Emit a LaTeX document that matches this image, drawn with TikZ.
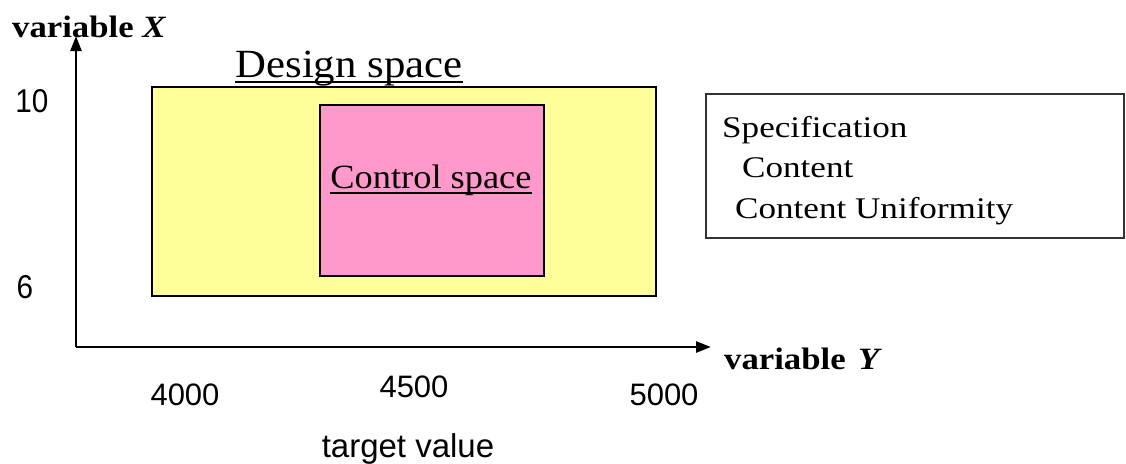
\documentclass[tikz,border=0pt]{standalone}
\usepackage{fontspec}
\setmainfont{Liberation Serif}
\newfontfamily\numfont{Liberation Sans}
\newfontfamily\numnarrow[FakeStretch=0.9]{Liberation Sans}
\newfontfamily\serifwide[FakeStretch=1.17]{Liberation Serif}
\newfontfamily\serifmid[FakeStretch=1.07]{Liberation Serif}
\newfontfamily\axfont[FakeStretch=1.12]{Liberation Serif}
\usetikzlibrary{arrows.meta}
\definecolor{designyellow}{HTML}{FFFF99}
\definecolor{controlpink}{HTML}{FF99CC}
\tikzset{
  axis/.style={line width=2.6pt, -{Triangle[length=15pt,width=11pt]}},
  region/.style={draw=black, line width=2pt},
  numlabel/.style={font=\numfont\fontsize{31}{35}\selectfont, inner sep=0pt, anchor=base},
  leftlabel/.style={font=\numnarrow\fontsize{33}{37}\selectfont, inner sep=0pt, anchor=base},
  axlabel/.style={font=\axfont\fontsize{31}{35}\selectfont\bfseries, inner sep=0pt, anchor=base west},
  spectext/.style={font=\serifwide\fontsize{30}{34}\selectfont, inner sep=0pt, anchor=base west},
  uline/.style={line width=1.3pt},
}
\begin{document}
\begin{tikzpicture}[x=1pt,y=-1pt]
\useasboundingbox (0,0) rectangle (1126,463);
% regions
\draw[region, fill=designyellow] (152,87) rectangle (656,296);
\draw[region, fill=controlpink] (320,105) rectangle (544,276);
% axes
\coordinate (O) at (76,347);
\coordinate (ytip) at (76,36);
\coordinate (xtip) at (711,347);
\draw[axis] (O) -- (ytip);
\draw[axis] (O) -- (xtip);
% axis labels
\node[axlabel] (xlab) at (12,37) {variable \textit{X}};
\node[axlabel] (ylab) at (724,369) {variable\hspace{0.4em}\textit{Y}};
% region labels
\node[inner sep=0pt, anchor=base, font=\serifmid\fontsize{40}{44}\selectfont] (design) at (349,77) {Design space};
\draw[uline] ([yshift=-5pt]design.base west) -- ([yshift=-5pt]design.base east);
\node[inner sep=0pt, anchor=base, font=\serifmid\fontsize{34}{38}\selectfont] (control) at (431,188) {Control space};
\draw[uline] ([yshift=-5pt]control.base west) -- ([yshift=-5pt]control.base east);
% specification box
\draw[draw=black!80, line width=1.2pt] (706,94) rectangle (1124,238);
\node[spectext] (spec) at (722,137) {Specification};
\node[spectext] (content) at (742,177) {Content};
\node[spectext] (cu) at (735,218) {Content Uniformity};
% tick labels
\node[leftlabel] (t10) at (32,112) {10};
\node[leftlabel] (t6) at (25,298) {6};
\node[numlabel] (t4000) at (185,405) {4000};
\node[numlabel] (t4500) at (414,397) {4500};
\node[numlabel] (t5000) at (664,405) {5000};
\node[numlabel, font=\numfont\fontsize{33}{37}\selectfont] (target) at (408,457) {target value};
\end{tikzpicture}
\end{document}
